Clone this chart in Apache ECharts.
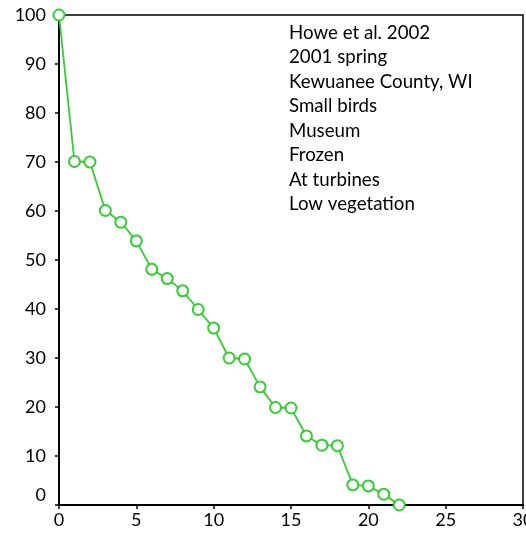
<!DOCTYPE html>
<html><head><meta charset="utf-8">
<script src="https://cdn.jsdelivr.net/npm/echarts@6/dist/echarts.min.js"></script>
<style>html,body{margin:0;padding:0;background:#fff}#c{width:526px;height:535px}</style>
</head><body><div id="c"></div>
<script>
var xValues = [0,1,2,3,4,5,6,7,8,9,10,11,12,13,14,15,16,17,18,19,20,21,22];
var yValues = [100,70.1,70,60.1,57.7,53.9,48.1,46.2,43.7,39.9,36.1,30,29.8,24.1,19.9,19.8,14.1,12.2,12.1,4.1,3.9,2.2,0];
var noteLines = ["Howe et al. 2002","2001 spring","Kewuanee County, WI","Small birds","Museum","Frozen","At turbines","Low vegetation"];

var font = "Lato, 'Open Sans', sans-serif";
var chart = echarts.init(document.getElementById('c'));
var pts = xValues.map(function(x,i){return [x,yValues[i]];});
chart.setOption({
  animation:false,
  grid:{left:59,right:3,top:15,bottom:30,outerBoundsMode:'none',containLabel:false,show:true,borderColor:'#000',borderWidth:1.5,backgroundColor:'transparent'},
  xAxis:{type:'value',min:0,max:30,interval:5,
    axisLine:{show:true,onZero:false,lineStyle:{color:'#000',width:2}},
    axisTick:{show:true,length:4,lineStyle:{color:'#000',width:1.5}},
    splitLine:{show:false},
    axisLabel:{color:'#000',fontSize:18,fontFamily:font,margin:6,showMaxLabel:true,hideOverlap:false}},
  yAxis:{type:'value',min:0,max:100,interval:10,
    axisLine:{show:true,lineStyle:{color:'#000',width:2}},
    axisTick:{show:true,length:4,lineStyle:{color:'#000',width:1.5}},
    splitLine:{show:false},
    axisLabel:{color:'#000',fontSize:18,fontFamily:font,margin:13,
      formatter:function(v){return v===0?'{z|0}':String(v);},
      rich:{z:{fontSize:18,fontFamily:font,color:'#000',padding:[0,0,20,0]}}}},
  graphic:noteLines.map(function(t,i){
    return {type:'text',left:289,top:23+i*24.5,style:{text:t,fontSize:18.7,fontFamily:font,fill:'#000'}};
  }),
  series:[{type:'line',data:pts,symbol:'emptyCircle',symbolSize:11,
    lineStyle:{color:'#33cc33',width:1.8},
    itemStyle:{color:'#33cc33',borderColor:'#33cc33',borderWidth:1.8}}]
});
</script></body></html>
